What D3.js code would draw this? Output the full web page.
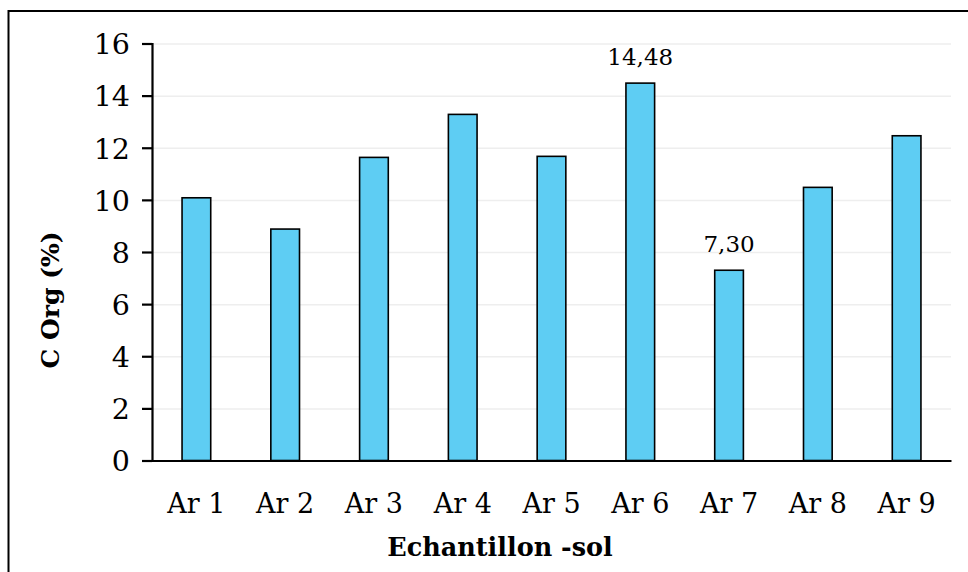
<!DOCTYPE html>
<html>
<head>
<meta charset="utf-8">
<script src="https://cdn.jsdelivr.net/npm/d3@7"></script>
<style>
    body { margin: 0; background: #fff; }
    svg { display: block; font-family: "DejaVu Serif", serif; }
    .grid line { stroke: #eeeeee; stroke-width: 1.5; }
    .grid .domain { display: none; }
</style>
</head>
<body>
<svg id="chart" width="968" height="572"></svg>
<script>
// Chart data
const categories = ['Ar 1', 'Ar 2', 'Ar 3', 'Ar 4', 'Ar 5', 'Ar 6', 'Ar 7', 'Ar 8', 'Ar 9'];
const cOrg = [10.08, 8.88, 11.63, 13.28, 11.67, 14.48, 7.30, 10.48, 12.46];
const yTicks = [0, 2, 4, 6, 8, 10, 12, 14, 16];
// only these two bars carry a value label
const labelled = ['Ar 6', 'Ar 7'];

const svg = d3.select('#chart');
const margin = { left: 152, right: 17, top: 43.5, bottom: 111.5 };
const width = 968 - margin.left - margin.right;
const height = 572 - margin.top - margin.bottom;

// Outer frame (left and top edges visible)
svg.append('path')
    .attr('d', 'M 8.5 572 L 8.5 11 L 968 11')
    .attr('fill', 'none')
    .attr('stroke', '#000')
    .attr('stroke-width', 2);

const g = svg.append('g').attr('transform', `translate(${margin.left},${margin.top})`);

const x = d3.scaleBand()
    .domain(categories)
    .range([0, width])
    .paddingInner(0.677)
    .paddingOuter(0.3385);

const y = d3.scaleLinear()
    .domain([0, 16])
    .range([height, 0]);

// Gridlines
g.append('g')
    .attr('class', 'grid')
    .call(d3.axisLeft(y).tickValues(yTicks.slice(1)).tickSize(-width).tickFormat(''));

// Bars
g.selectAll('rect.bar')
    .data(categories)
    .join('rect')
    .attr('class', 'bar')
    .attr('x', d => x(d))
    .attr('y', (d, i) => y(cOrg[i]))
    .attr('width', x.bandwidth())
    .attr('height', (d, i) => height - y(cOrg[i]))
    .attr('fill', '#5ecdf3')
    .attr('stroke', '#000')
    .attr('stroke-width', 1.6);

// Value labels
g.selectAll('text.val')
    .data(categories.filter(c => labelled.includes(c)))
    .join('text')
    .attr('class', 'val')
    .attr('x', d => x(d) + x.bandwidth() / 2)
    .attr('y', d => y(cOrg[categories.indexOf(d)]) - 18)
    .attr('text-anchor', 'middle')
    .attr('font-size', 23)
    .attr('fill', '#000')
    .text(d => cOrg[categories.indexOf(d)].toFixed(2).replace('.', ','));

// Y axis
const yAxis = g.append('g')
    .call(d3.axisLeft(y).tickValues(yTicks).tickSize(10).tickPadding(12));
yAxis.select('.domain').attr('stroke-width', 2.2);
yAxis.selectAll('.tick line').attr('stroke-width', 2.2);
yAxis.selectAll('.tick text')
    .attr('font-size', 28.5)
    .attr('font-family', '"DejaVu Serif", serif')
    .attr('fill', '#000')
    .attr('dy', '0.36em');

// X axis
const xAxis = g.append('g')
    .attr('transform', `translate(0,${height})`)
    .call(d3.axisBottom(x).tickSize(0).tickPadding(33).tickSizeOuter(0));
xAxis.select('.domain').attr('stroke-width', 2.2);
xAxis.selectAll('.tick text')
    .attr('font-size', 27)
    .attr('font-family', '"DejaVu Serif", serif')
    .attr('fill', '#000');

// Axis titles
svg.append('text')
    .attr('transform', 'translate(59,300) rotate(-90)')
    .attr('text-anchor', 'middle')
    .attr('font-size', 25)
    .attr('font-weight', 'bold')
    .text('C Org (%)');

svg.append('text')
    .attr('x', 500)
    .attr('y', 556)
    .attr('text-anchor', 'middle')
    .attr('font-size', 25.5)
    .attr('font-weight', 'bold')
    .text('Echantillon -sol');
</script>
</body>
</html>
